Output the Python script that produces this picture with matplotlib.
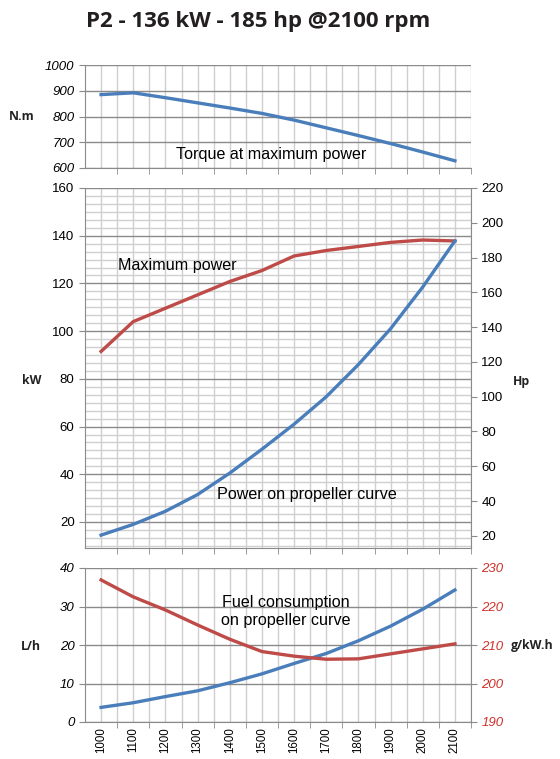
import matplotlib
matplotlib.use("Agg")
import numpy as np
import matplotlib.pyplot as plt
from matplotlib.ticker import MultipleLocator, FixedLocator

# engine speed (rpm)
rpm = [1000, 1100, 1200, 1300, 1400, 1500, 1600, 1700, 1800, 1900, 2000, 2100]
# torque at maximum power (N.m)
torque = [885, 892, 873, 853, 833, 812, 786, 756, 726, 695, 662, 628]
# power (kW)
max_power_kw = [91.5, 104, 109.6, 115.2, 120.8, 125.4, 131.5, 133.8, 135.5, 137.2, 138.2, 137.8]
prop_power_kw = [14.5, 19, 24.5, 31.5, 40.5, 50.5, 61, 72.5, 86, 101, 118.5, 137.8]
# fuel consumption on propeller curve
fuel_lh = [3.8, 5.0, 6.6, 8.1, 10.2, 12.5, 15.2, 17.8, 21.1, 24.9, 29.3, 34.3]
sfc_gkwh = [226.9, 222.5, 219.1, 215.2, 211.5, 208.3, 207.1, 206.3, 206.4, 207.7, 209.0, 210.3]

BLUE = "#4a7ebb"
RED = "#be4b48"
LIGHT = "#cfcfcf"
DARK = "#8a8a8a"
TICKFONT = "Liberation Sans"
LABELFONT = "Open Sans"

W, H = 560, 759


def fx(x):
    return x / W


def fy(y):
    return 1 - y / H


def panel(top, bottom):
    return [fx(85), fy(bottom), fx(471) - fx(85), (bottom - top) / H]


def style_x(ax, labels=False):
    ax.set_xlim(950, 2150)
    ax.xaxis.set_major_locator(FixedLocator(rpm))
    ax.xaxis.set_minor_locator(FixedLocator(np.arange(1050, 2151, 100)))
    ax.tick_params(axis="x", which="major", length=0)
    ax.tick_params(axis="x", which="minor", length=4, color=DARK, direction="out")
    ax.grid(True, axis="x", which="both", color=LIGHT, lw=1.0)
    if labels:
        ax.set_xticks(rpm)
        ax.set_xticklabels([str(r) for r in rpm], rotation=90,
                           fontfamily=TICKFONT, fontsize=8.3)
    else:
        ax.set_xticklabels([])
    for s in ["top", "right"]:
        ax.spines[s].set_visible(False)
    for s in ["left", "bottom"]:
        ax.spines[s].set_color(DARK)
    ax.set_axisbelow(True)


fig = plt.figure(figsize=(W / 100, H / 100), dpi=100)

# ---- torque panel
ax_t = fig.add_axes(panel(65, 168))
style_x(ax_t)
ax_t.plot(rpm, torque, color=BLUE, lw=2.4)
ax_t.set_ylim(600, 1000)
ax_t.yaxis.set_major_locator(MultipleLocator(100))
ax_t.grid(True, axis="y", which="major", color=DARK, lw=1.0)
ax_t.tick_params(axis="y", length=4, color=DARK)
for lab in ax_t.get_yticklabels():
    lab.set_fontfamily(TICKFONT)
    lab.set_fontstyle("italic")
    lab.set_fontsize(9.5)
ax_t.text(1528, 652, "Torque at maximum power", ha="center", va="center",
          fontfamily=TICKFONT, fontsize=11.6)

# ---- power panel
ax_m = fig.add_axes(panel(188, 548))
style_x(ax_m)
ax_m.plot(rpm, max_power_kw, color=RED, lw=2.4)
ax_m.plot(rpm, prop_power_kw, color=BLUE, lw=2.4)
ax_m.set_ylim(9.1, 160)
ax_m.yaxis.set_major_locator(FixedLocator(np.arange(20, 161, 20)))
ax_m.yaxis.set_minor_locator(MultipleLocator(20 / 6))
ax_m.grid(True, axis="y", which="minor", color=LIGHT, lw=1.0)
ax_m.grid(True, axis="y", which="major", color=DARK, lw=1.0)
ax_m.tick_params(axis="y", which="major", length=4, color=DARK)
ax_m.tick_params(axis="y", which="minor", length=0)
for lab in ax_m.get_yticklabels():
    lab.set_fontfamily(TICKFONT)
    lab.set_fontsize(9.5)
ax_m.text(1236, 127.4, "Maximum power", ha="center", va="center",
          fontfamily=TICKFONT, fontsize=11.6)
ax_m.text(1640, 31.7, "Power on propeller curve", ha="center", va="center",
          fontfamily=TICKFONT, fontsize=11.6)

ax_hp = ax_m.twinx()
ax_hp.set_xlim(950, 2150)
ax_hp.set_ylim(13, 220)
ax_hp.yaxis.set_major_locator(FixedLocator(np.arange(20, 221, 20)))
ax_hp.tick_params(axis="y", length=4, color=DARK)
for s in ["top", "left", "bottom"]:
    ax_hp.spines[s].set_visible(False)
ax_hp.spines["right"].set_color(DARK)
for lab in ax_hp.get_yticklabels():
    lab.set_fontfamily(TICKFONT)
    lab.set_fontsize(9.5)

# ---- fuel panel
ax_b = fig.add_axes(panel(568, 722))
style_x(ax_b, labels=True)
ax_b.tick_params(axis="x", which="major", pad=4)
ax_b.plot(rpm, fuel_lh, color=BLUE, lw=2.4)
ax_b.set_ylim(0, 40)
ax_b.yaxis.set_major_locator(MultipleLocator(10))
ax_b.grid(True, axis="y", which="major", color=DARK, lw=1.0)
ax_b.tick_params(axis="y", length=4, color=DARK)
for lab in ax_b.get_yticklabels():
    lab.set_fontfamily(TICKFONT)
    lab.set_fontstyle("italic")
    lab.set_fontsize(9.5)
ax_b.text(1575, 28.7, "Fuel consumption\non propeller curve", ha="center", va="center",
          fontfamily=TICKFONT, fontsize=11.6, linespacing=1.2)

ax_g = ax_b.twinx()
ax_g.set_xlim(950, 2150)
ax_g.plot(rpm, sfc_gkwh, color=RED, lw=2.4)
ax_g.set_ylim(190, 230)
ax_g.yaxis.set_major_locator(MultipleLocator(10))
ax_g.tick_params(axis="y", length=4, color=DARK, labelcolor="#d0302a")
for s in ["top", "left", "bottom"]:
    ax_g.spines[s].set_visible(False)
ax_g.spines["right"].set_color(DARK)
for lab in ax_g.get_yticklabels():
    lab.set_fontfamily(TICKFONT)
    lab.set_fontstyle("italic")
    lab.set_fontsize(9.5)

# ---- axis names and title
name_kw = dict(fontfamily=LABELFONT, fontweight="bold", fontsize=8.8,
               va="center", color="#222222")
fig.text(fx(22), fy(117), "N.m", ha="center", **name_kw)
fig.text(fx(32), fy(381), "kW", ha="center", **name_kw)
fig.text(fx(31), fy(646), "L/h", ha="center", **name_kw)
fig.text(fx(521), fy(381), "Hp", ha="center", **name_kw)
fig.text(fx(511), fy(646), "g/kW.h", ha="left", **name_kw)

fig.text(fx(258), fy(22), "P2 - 136 kW - 185 hp @2100 rpm", ha="center",
         va="center", fontfamily=LABELFONT, fontweight="bold", fontsize=16,
         color="#231f20")

fig.savefig("out.png", dpi=100)
